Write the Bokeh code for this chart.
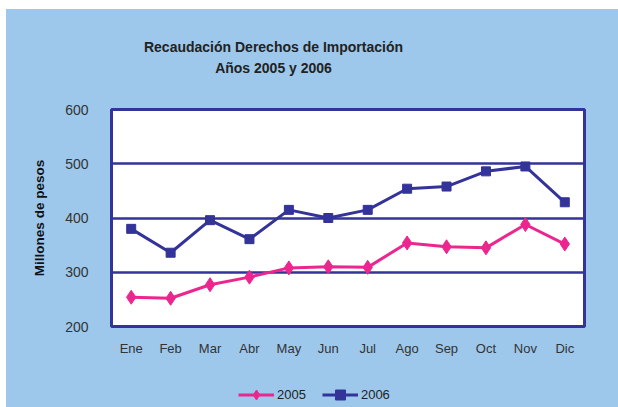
from bokeh.plotting import figure
from bokeh.layouts import column
from bokeh.models import FactorRange, Label, Legend, LegendItem, FixedTicker, ColumnDataSource
from bokeh.embed import file_html
from bokeh.resources import INLINE

months = ["Ene", "Feb", "Mar", "Abr", "May", "Jun", "Jul", "Ago", "Sep", "Oct", "Nov", "Dic"]
v2005 = [254, 252, 277, 291, 308, 310, 309, 354, 347, 345, 388, 352]
v2006 = [380, 336, 396, 361, 415, 400, 415, 454, 458, 486, 495, 429]
y_ticks = [200, 300, 400, 500, 600]
series_names = ["2005", "2006"]
title_lines = ["Recaudación Derechos de Importación", "Años 2005 y 2006"]
y_label = "Millones de pesos"

BG = "#9DC8EB"
NAVY = "#333399"
PINK = "#EC268F"
FONT = "Liberation Sans"

src = ColumnDataSource(dict(m=months, a=v2005, b=v2006))


def blank(h):
    f = figure(width=612, height=h, x_range=FactorRange(factors=months), y_range=(0, 1),
               title=None, x_axis_type=None, y_axis_type=None, output_backend="svg",
               toolbar_location=None, background_fill_color=BG, border_fill_color=BG,
               min_border=0)
    f.outline_line_color = None
    f.grid.visible = False
    return f


# ---- title block ----
p0 = blank(86)
for t, y in zip(title_lines, [49, 27.5]):
    p0.add_layout(Label(x=162, y=y, x_units="screen", y_units="screen", text=t,
                        text_align="center", text_baseline="alphabetic",
                        text_font=FONT, text_font_style="bold", text_font_size="14px",
                        text_color="#222222"))

# ---- main chart ----
p = figure(width=612, height=270, x_range=FactorRange(factors=months),
           y_range=(200, 600), output_backend="svg", toolbar_location=None, title=None,
           background_fill_color="white", border_fill_color=BG,
           min_border_left=105, min_border_right=34, min_border_top=14, min_border_bottom=39)
p.outline_line_color = NAVY
p.outline_line_width = 3

p.xgrid.grid_line_color = None
p.ygrid.grid_line_color = NAVY
p.ygrid.grid_line_width = 2.5
p.yaxis.ticker = FixedTicker(ticks=y_ticks)

for ax in (p.xaxis[0], p.yaxis[0]):
    ax.axis_line_color = None
    ax.major_tick_line_color = None
    ax.minor_tick_line_color = None
    ax.major_label_text_font = FONT
    ax.major_label_text_color = "#333333"
p.xaxis.major_label_text_font_size = "13px"
p.yaxis.major_label_text_font_size = "14px"
p.yaxis.major_label_standoff = 17
p.xaxis.major_label_standoff = 8
p.yaxis.axis_label = y_label
p.yaxis.axis_label_text_font = FONT
p.yaxis.axis_label_text_font_style = "bold"
p.yaxis.axis_label_text_font_size = "13.5px"
p.yaxis.axis_label_text_color = "#111111"
p.yaxis.axis_label_standoff = 15

p.line("m", "a", source=src, line_color=PINK, line_width=3)
p.scatter("m", "a", source=src, marker="diamond", size=14, fill_color=PINK, line_color=PINK)
p.line("m", "b", source=src, line_color=NAVY, line_width=3)
p.scatter("m", "b", source=src, marker="square", size=9, fill_color=NAVY, line_color=NAVY)

# ---- legend block (its renderers fall outside this strip's y range) ----
p2 = blank(42)
k1 = p2.line("m", "a", source=src, line_color=PINK, line_width=3)
k1m = p2.scatter("m", "a", source=src, marker="diamond", size=14, fill_color=PINK, line_color=PINK)
k2 = p2.line("m", "b", source=src, line_color=NAVY, line_width=3)
k2m = p2.scatter("m", "b", source=src, marker="square", size=9, fill_color=NAVY, line_color=NAVY)
legend = Legend(items=[LegendItem(label=series_names[0], renderers=[k1, k1m]),
                       LegendItem(label=series_names[1], renderers=[k2, k2m])],
                orientation="horizontal", location=(127, 0),
                background_fill_alpha=0, border_line_color=None,
                label_text_font=FONT, label_text_font_size="13px", label_text_color="#222222",
                glyph_width=36, glyph_height=25, label_standoff=3, spacing=16,
                padding=0, margin=0)
p2.add_layout(legend, "center")

layout = column(p0, p, p2, spacing=0, margin=(9, 0, 0, 6),
                styles={"background-color": BG})
open("out.html", "w").write(file_html(layout, INLINE))
